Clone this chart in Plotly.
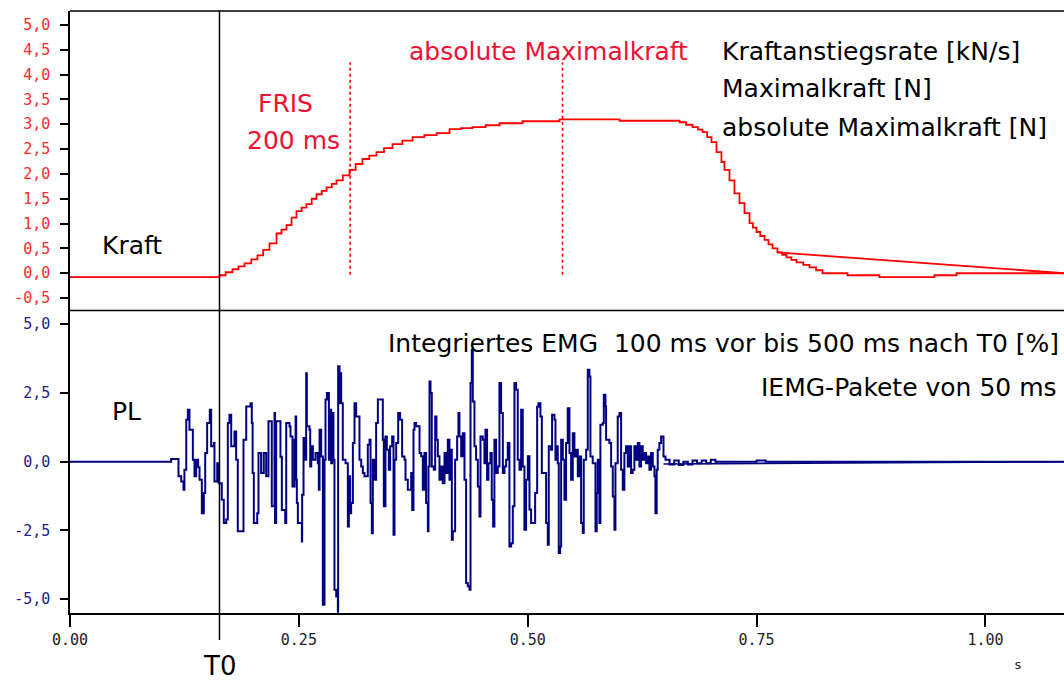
import plotly.graph_objects as go

# ---------------- data ----------------
XMAX = 1.0858          # right edge of the time axis [s]
T0 = 0.1633            # onset marker [s]
FRIS_T = 0.306         # FRIS 200 ms marker [s]
MAXF_T = 0.538         # absolute maximal force marker [s]

x_tickvals = [0.0, 0.25, 0.5, 0.75, 1.0]
x_ticktext = ["0.00", "0.25", "0.50", "0.75", "1.00"]

kraft_tickvals = [-0.5, 0.0, 0.5, 1.0, 1.5, 2.0, 2.5, 3.0, 3.5, 4.0, 4.5, 5.0]
kraft_ticktext = ["-0,5", "0,0", "0,5", "1,0", "1,5", "2,0", "2,5", "3,0", "3,5", "4,0", "4,5", "5,0"]

pl_tickvals = [-5.0, -2.5, 0.0, 2.5, 5.0]
pl_ticktext = ["-5,0", "-2,5", "0,0", "2,5", "5,0"]

force_t = [0.0, 0.1633, 0.1700, 0.1775, 0.1840, 0.1906, 0.1980, 0.2048, 0.2110, 0.2179,
           0.2256, 0.2310, 0.2365, 0.2420, 0.2474, 0.2530, 0.2583, 0.2640, 0.2692, 0.2750,
           0.2802, 0.2860, 0.2911, 0.2980, 0.3053, 0.3120, 0.3195, 0.3270, 0.3348, 0.3430,
           0.3523, 0.3630, 0.3742, 0.3870, 0.4004, 0.4146, 0.4270, 0.4397, 0.4540, 0.4692,
           0.4943, 0.5347, 0.6002, 0.6659, 0.6730, 0.6800, 0.6860, 0.6909, 0.6960, 0.7007,
           0.7062, 0.7116, 0.7149, 0.7204, 0.7258, 0.7313, 0.7368, 0.7423, 0.7460, 0.7499,
           0.7540, 0.7587, 0.7630, 0.7674, 0.7728, 0.7780, 0.7827, 0.7880, 0.7936, 0.8010,
           0.8078, 0.8150, 0.8220, 0.8493, 0.8842, 0.9443, 0.9683, 1.0858]
force_v = [-0.08, -0.04, 0.02, 0.08, 0.14, 0.20, 0.28, 0.36, 0.47, 0.60,
           0.80, 0.88, 0.97, 1.12, 1.25, 1.32, 1.39, 1.50, 1.59, 1.66,
           1.73, 1.80, 1.87, 1.97, 2.08, 2.20, 2.30, 2.37, 2.44, 2.52,
           2.60, 2.67, 2.74, 2.78, 2.82, 2.90, 2.92, 2.94, 2.98, 3.02,
           3.06, 3.10, 3.07, 3.04, 2.99, 2.94, 2.89, 2.84, 2.74, 2.64,
           2.44, 2.24, 2.08, 1.87, 1.61, 1.41, 1.21, 1.01, 0.92, 0.83,
           0.75, 0.67, 0.58, 0.50, 0.42, 0.37, 0.32, 0.27, 0.22, 0.17,
           0.12, 0.06, 0.00, -0.04, -0.08, -0.04, 0.00, 0.00]
force_chord_t = [0.7728, 1.0858]
force_chord_v = [0.42, 0.00]

emg_t = [0.0, 0.1105, 0.1185, 0.1215, 0.1240, 0.1250, 0.1270, 0.1287, 0.1305, 0.1342,
         0.1360, 0.1378, 0.1400, 0.1415, 0.1440, 0.1462, 0.1477, 0.1498, 0.1527, 0.1542,
         0.1571, 0.1578, 0.1608, 0.1625, 0.1658, 0.1680, 0.1706, 0.1724, 0.1742, 0.1761,
         0.1797, 0.1815, 0.1833, 0.1895, 0.1925, 0.1972, 0.1986, 0.1995, 0.2008, 0.2045,
         0.2059, 0.2088, 0.2117, 0.2143, 0.2168, 0.2204, 0.2234, 0.2240, 0.2252, 0.2299,
         0.2314, 0.2351, 0.2362, 0.2398, 0.2409, 0.2430,
         0.2453, 0.2464, 0.2471, 0.2478, 0.2489, 0.2533, 0.2536, 0.2551, 0.2573, 0.2580,
         0.2587, 0.2616, 0.2624, 0.2635, 0.2653, 0.2682, 0.2707, 0.2718, 0.2726, 0.2744,
         0.2762, 0.2780, 0.2791, 0.2806, 0.2828, 0.2835, 0.2853, 0.2864, 0.2878, 0.2889,
         0.2908, 0.2926, 0.2929, 0.2944, 0.2951, 0.2962, 0.2980, 0.3010, 0.3035, 0.3046,
         0.3060, 0.3071, 0.3090, 0.3108, 0.3126, 0.3162, 0.3181, 0.3199, 0.3217, 0.3253,
         0.3272, 0.3283, 0.3297, 0.3308, 0.3326, 0.3344, 0.3363, 0.3417, 0.3428, 0.3446,
         0.3461, 0.3483, 0.3497, 0.3519, 0.3534, 0.3545, 0.3563, 0.3585, 0.3606, 0.3628,
         0.3654, 0.3665, 0.3690, 0.3727, 0.3738, 0.3752, 0.3763, 0.3781,
         0.3818, 0.3836, 0.3854, 0.3872, 0.3890, 0.3909, 0.3916, 0.3927, 0.3938, 0.3952,
         0.3974, 0.3989, 0.4003, 0.4018, 0.4036, 0.4054, 0.4072, 0.4091, 0.4109, 0.4127,
         0.4145, 0.4156, 0.4171, 0.4182, 0.4207, 0.4229, 0.4243, 0.4254, 0.4273, 0.4291,
         0.4309, 0.4327, 0.4345, 0.4364, 0.4375, 0.4389, 0.4400, 0.4418, 0.4436, 0.4455,
         0.4473, 0.4484, 0.4509, 0.4527, 0.4538, 0.4556, 0.4571, 0.4593, 0.4607, 0.4622,
         0.4636, 0.4655, 0.4673, 0.4691, 0.4709, 0.4728, 0.4746, 0.4764, 0.4782, 0.4800,
         0.4819, 0.4837, 0.4855, 0.4873, 0.4891, 0.4910, 0.4928, 0.4946, 0.4964, 0.4982,
         0.5001, 0.5019, 0.5037, 0.5081, 0.5103, 0.5117, 0.5139, 0.5154,
         0.5201, 0.5219, 0.5230, 0.5255, 0.5266, 0.5292, 0.5303, 0.5317, 0.5328, 0.5339,
         0.5354, 0.5365, 0.5383, 0.5401, 0.5419, 0.5437, 0.5456, 0.5474, 0.5492, 0.5510,
         0.5528, 0.5547, 0.5565, 0.5583, 0.5601, 0.5612, 0.5638, 0.5656, 0.5674, 0.5685,
         0.5710, 0.5740, 0.5754, 0.5765, 0.5783, 0.5794, 0.5820, 0.5831, 0.5849, 0.5856,
         0.5892, 0.5911, 0.5929, 0.5947, 0.5958, 0.5983, 0.6002, 0.6020, 0.6038, 0.6056,
         0.6074, 0.6093, 0.6111, 0.6129, 0.6147, 0.6165, 0.6184, 0.6202, 0.6220, 0.6238,
         0.6256, 0.6275, 0.6293, 0.6311, 0.6329, 0.6347, 0.6366, 0.6384, 0.6395, 0.6409,
         0.6420, 0.6438, 0.6457, 0.6483, 0.6505, 0.6550, 0.6600, 0.6650, 0.6700, 0.6750,
         0.6800, 0.6850, 0.6900, 0.6950, 0.7000, 0.7050, 0.7500, 0.7600, 1.0858]
emg_v = [0.00, 0.10, -0.53, -0.72, -1.02, -0.29, 1.53, 1.89, 1.16, 0.07,
         -0.53, 0.07, -0.20, -0.65, -1.87, -1.14, 0.32, 1.41, 1.89, 0.56,
         0.68, -0.72, -0.05, -0.78, -1.38, -2.23, -2.10, 1.41, 1.71, 0.56,
         1.10, 0.07, -2.53, 0.80, 2.01, 2.13, 1.41, -0.41, -2.23, -1.87,
         0.32, -0.41, 0.32, -0.53, 1.47, -1.62, 1.77, -2.23, 1.47, 0.18,
         -1.75, -2.23, 1.41, 1.28, 0.92, -0.90,
         0.80, 1.65, -0.65, -1.50, -2.23, -2.90, -1.20, 0.86, 0.07, 3.22,
         1.29, 1.16, -0.17, 0.56, 0.07, 0.32, -0.05, -1.02, 1.16, 0.19,
         -5.20, 0.07, 2.26, 2.50, 0.07, 1.89, -0.05, 1.77, 0.07, -4.65,
         -4.90, -5.45, 3.47, 2.13, 3.22, 2.13, 0.07, -0.05, -2.35, -0.53,
         -1.87, -1.50, 0.68, 2.13, 1.65, 0.07, -0.17, -0.41, -0.53, 0.62,
         0.80, -1.50, -2.60, 0.07, -0.65, 1.41, 2.26, 0.80, -1.62, 0.92,
         0.44, -0.29, 0.56, 0.92, -2.65, 0.07, 0.68, 1.77, 1.53, 0.19,
         0.07, -0.65, -1.02, -0.41, -1.75, 1.16, 1.41, 1.29,
         0.32, 0.20, -1.02, 0.32, -1.50, -2.53, -0.17, 2.92, 2.50, -0.17,
         -0.29, 1.65, 0.80, 0.20, -0.65, -0.17, -0.78, 0.32, -0.41, 0.80,
         -0.65, 0.44, -2.84, -2.53, 0.07, 0.92, 1.77, 0.92, 0.20, 1.04,
         -0.65, -4.41, -4.53, -4.65, 2.86, 4.07, 2.19, 0.56, 0.07, -0.90,
         -1.99, 0.92, 0.80, -0.05, 1.16, -0.65, -0.05, 0.32, -1.38, -2.35,
         0.80, -0.41, -0.17, 2.86, 1.77, -0.41, -0.17, 0.07, 0.68, -3.08,
         -2.96, -1.62, 2.86, 2.62, 0.07, -0.29, 1.89, -0.17, -2.47, -0.65,
         0.20, -1.74, -2.23, -1.14, 2.00, 2.13, 1.65, -0.41,
         -2.23, -3.02, 0.56, 0.44, 1.71, 1.53, 0.07, 0.56, -0.05, -3.32,
         -3.08, 0.80, 0.07, -1.38, 0.68, 1.95, 0.32, -0.65, 1.04, 0.19,
         0.44, -0.53, 0.19, -2.23, -2.59, 0.07, 0.44, 3.35, 3.10, 0.19,
         -0.05, -2.53, -1.14, 0.07, -2.23, 1.35, 1.41, 2.44, 2.01, 0.80,
         0.68, -0.17, -1.26, -2.47, -0.05, 1.65, 1.77, -0.29, -1.02, 0.32,
         0.56, -0.17, 0.56, -0.41, -0.29, 0.56, 0.07, 0.68, -0.17, 0.56,
         0.07, 0.32, -0.05, 0.19, -0.29, 0.32, -0.17, -0.53, -1.87, -0.29,
         0.44, 0.68, 0.92, 0.19, 0.07, -0.10, 0.05, -0.12, 0.00, -0.10,
         0.05, -0.05, 0.05, -0.05, 0.07, 0.00, 0.05, 0.00, 0.00]
emg_chord_t = [0.6483, 1.0858]
emg_chord_v = [-0.08, 0.00]

# ---------------- geometry / style ----------------
W, H = 1064, 681
ML, MR, MT, MB = 70, 0, 11, 68
PW, PH = W - ML - MR, H - MT - MB
SPLIT = 0.5025

RED_LINE = "#ff0000"
RED_TEXT = "#ee1133"
RED_TICK = "#ff2a2a"
NAVY = "#000080"
NAVY_TICK = "#22228a"
SANS = "DejaVu Sans"
MONO = "DejaVu Sans Mono"


def px_x(px):
    return (px - ML) / PW


def px_y(py):
    return (H - MB - py) / PH


fig = go.Figure()
fig.add_trace(go.Scatter(x=force_t, y=force_v, mode="lines", line=dict(color=RED_LINE, width=1.8, shape="hv"),
                         xaxis="x", yaxis="y2", hoverinfo="skip", showlegend=False))
fig.add_trace(go.Scatter(x=force_chord_t, y=force_chord_v, mode="lines", line=dict(color=RED_LINE, width=1.8),
                         xaxis="x", yaxis="y2", hoverinfo="skip", showlegend=False))
fig.add_trace(go.Scatter(x=emg_t, y=emg_v, mode="lines", line=dict(color=NAVY, width=2, shape="hv"),
                         xaxis="x", yaxis="y", hoverinfo="skip", showlegend=False))
fig.add_trace(go.Scatter(x=emg_chord_t, y=emg_chord_v, mode="lines", line=dict(color=NAVY, width=1.6),
                         xaxis="x", yaxis="y", hoverinfo="skip", showlegend=False))

axis_common = dict(showgrid=False, zeroline=False, showline=True, linecolor="black", linewidth=1.5,
                   ticks="outside", tickcolor="black", tickwidth=1.5)

fig.update_layout(
    width=W, height=H,
    margin=dict(l=ML, r=MR, t=MT, b=MB, pad=0),
    paper_bgcolor="white", plot_bgcolor="white",
    showlegend=False,
    xaxis=dict(range=[0, XMAX], anchor="y", tickvals=x_tickvals, ticktext=x_ticktext, ticklen=12,
               tickfont=dict(family=MONO, size=15, color="#222222"), **axis_common),
    yaxis=dict(domain=[0, SPLIT], range=[-5.5, 5.5], anchor="x", tickvals=pl_tickvals, ticktext=pl_ticktext,
               ticklen=8, ticklabelstandoff=7, tickfont=dict(family=MONO, size=15, color=NAVY_TICK), **axis_common),
    yaxis2=dict(domain=[SPLIT, 1], range=[-0.75, 5.28], anchor="x", tickvals=kraft_tickvals, ticktext=kraft_ticktext,
                ticklen=8, ticklabelstandoff=7, tickfont=dict(family=MONO, size=15, color=RED_TICK), **axis_common),
)

shapes = [
    dict(type="line", xref="paper", yref="paper", x0=0, x1=1, y0=1, y1=1, line=dict(color="black", width=1.5)),
    dict(type="line", xref="paper", yref="paper", x0=0, x1=1, y0=SPLIT, y1=SPLIT, line=dict(color="black", width=1.5)),
    dict(type="line", xref="paper", yref="paper", x0=T0 / XMAX, x1=T0 / XMAX, y0=px_y(640), y1=1,
         line=dict(color="black", width=1.5)),
    dict(type="line", xref="x", yref="y2", x0=FRIS_T, x1=FRIS_T, y0=-0.03, y1=4.25,
         line=dict(color=RED_LINE, width=1.6, dash="dot")),
    dict(type="line", xref="x", yref="y2", x0=MAXF_T, x1=MAXF_T, y0=-0.03, y1=4.25,
         line=dict(color=RED_LINE, width=1.6, dash="dot")),
]
fig.update_layout(shapes=shapes)


def note(text, px, py, xanchor="left", color="black", size=25, family=SANS):
    fig.add_annotation(text=text, x=px_x(px), y=px_y(py), xref="paper", yref="paper",
                       xanchor=xanchor, yanchor="middle", showarrow=False,
                       font=dict(family=family, size=size, color=color))


note("Kraft", 100, 245)
note("FRIS", 285, 104, xanchor="center", color=RED_TEXT)
note("200 ms", 293, 141, xanchor="center", color=RED_TEXT)
note("absolute Maximalkraft", 548, 52, xanchor="center", color=RED_TEXT)
note("Kraftanstiegsrate [kN/s]", 720, 52)
note("Maximalkraft [N]", 720, 89)
note("absolute Maximalkraft [N]", 720, 127)
note("Integriertes EMG\u00a0 100 ms vor bis 500 ms nach T0 [%]", 1061, 343, xanchor="right")
note("IEMG-Pakete von 50 ms", 1059, 387, xanchor="right")
note("PL", 110, 411)
note("T0", 219, 666, xanchor="center", size=26)
note("s", 1018, 664, xanchor="center", size=13, family=MONO, color="#222222")

fig.write_html("out.html", config={"displayModeBar": False},
               post_script="document.body.style.margin='0';document.body.style.overflow='hidden';")
